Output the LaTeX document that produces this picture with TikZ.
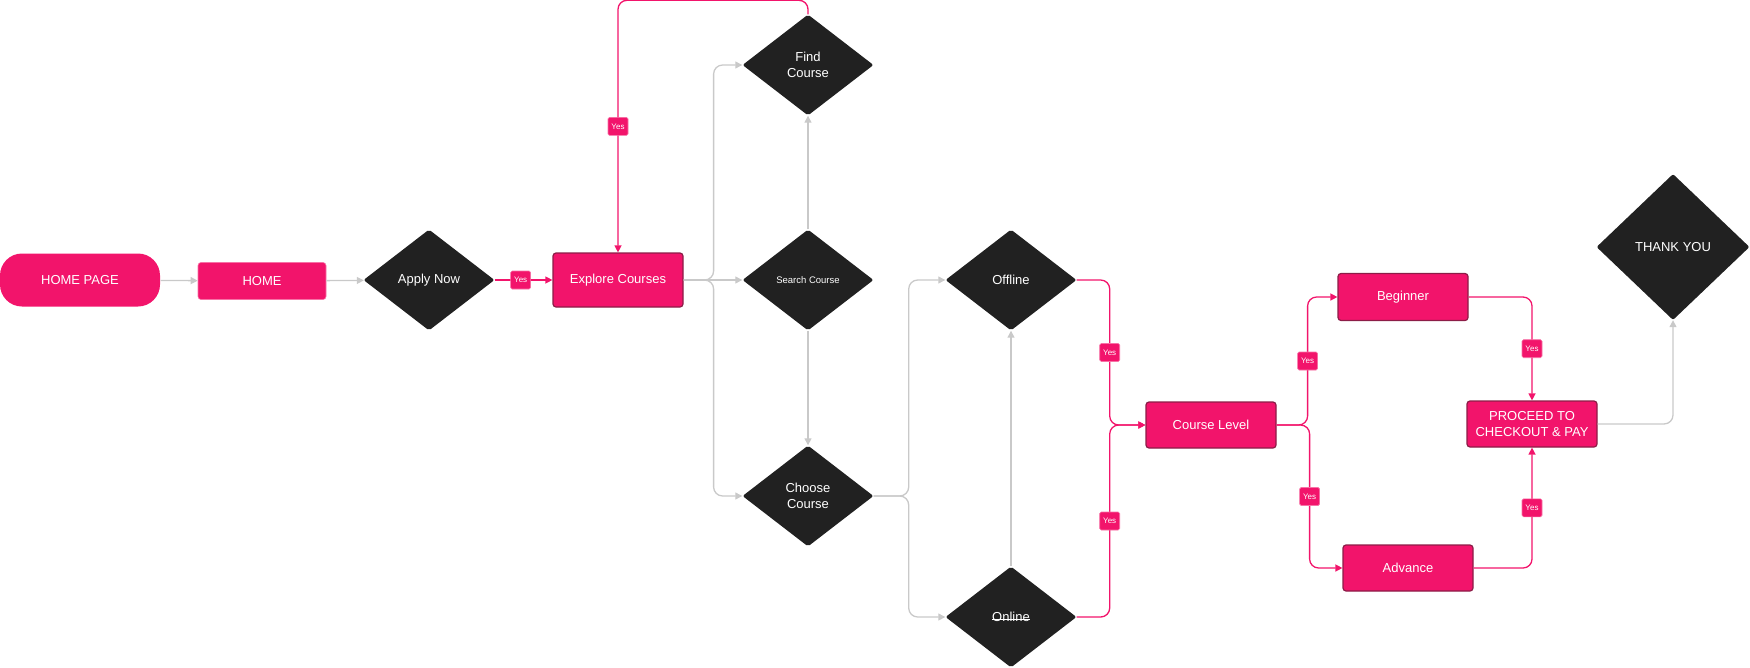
\documentclass[tikz,border=0pt]{standalone}
\usepackage{fontspec}
\setmainfont{Liberation Sans}
\usetikzlibrary{shapes.geometric,arrows.meta}
\definecolor{brandpink}{HTML}{F2146B}
\definecolor{boxrim}{HTML}{8C1D47}
\definecolor{darkfill}{HTML}{212121}
\definecolor{edgegrey}{HTML}{C9C9C9}
\newcommand\strikeword[1]{\setbox0\hbox{#1}\rlap{\rule[0.3ex]{\wd0}{0.7pt}}\box0}
\begin{document}
\begin{tikzpicture}[x=1pt,y=-1pt,
  pinkbox/.style={rectangle, rounded corners=3pt, fill=brandpink, draw=boxrim, line width=1.2pt, text=white, minimum width=130pt, minimum height=46pt, align=center, font=\fontsize{13}{15.5}\selectfont},
  decide/.style={diamond, rounded corners=2pt, fill=darkfill, text=white, minimum width=131pt, minimum height=101pt, inner sep=0pt, align=center, font=\fontsize{13}{15.5}\selectfont},
  yes/.style={rectangle, rounded corners=1.5pt, fill=brandpink, draw=brandpink!60!white, line width=0.6pt, text=white, minimum width=20pt, minimum height=18pt, inner sep=0pt, font=\fontsize{8}{9}\selectfont},
  gline/.style={draw=edgegrey, line width=1.3pt, rounded corners=9pt, -{Triangle[length=7pt,width=7pt]}},
  pline/.style={draw=brandpink, line width=1.3pt, rounded corners=9pt, -{Triangle[length=7pt,width=7pt]}}]
\useasboundingbox (0,0) rectangle (1750,667);
\node[pinkbox, draw=none, rounded corners=22pt, minimum width=160pt, minimum height=53pt] (hp) at (80,280){HOME PAGE};
\node[pinkbox, draw=brandpink!60!white, line width=0.6pt, minimum width=128pt, minimum height=37pt] (home) at (262,281){HOME};
\node[decide] (apply) at (429,280){Apply Now};
\node[pinkbox, minimum height=54pt] (explore) at (618,280){Explore Courses};
\node[decide] (find) at (808,65){Find\\Course};
\node[decide, font=\fontsize{9.5}{11}\selectfont] (search) at (808,280){Search Course};
\node[decide] (choose) at (808,496){Choose\\Course};
\node[decide] (offline) at (1011,280){Offline};
\node[decide] (online) at (1011,617){\strikeword{Online}};
\node[pinkbox] (level) at (1211,425){Course Level};
\node[pinkbox, minimum height=47pt] (beginner) at (1403,297){Beginner};
\node[pinkbox] (advance) at (1408,568){Advance};
\node[pinkbox] (pay) at (1532,424){PROCEED TO\\CHECKOUT \& PAY};
\node[decide, minimum width=153pt, minimum height=146pt] (thanks) at (1673,247){THANK YOU};
\draw[gline] (hp) -- (home);
\draw[gline] (home) -- (apply);
\draw[pline] (apply) -- node[yes, pos=0.45]{Yes} (explore);
\draw[pline] (find.north) -- ++(0,-14) -| node[yes, pos=0.75]{Yes} (explore.north);
\draw[gline] (explore) -- (search);
\draw[gline] (explore.east) -- ++(30,0) |- (find);
\draw[gline] (explore.east) -- ++(30,0) |- (choose);
\draw[gline] (search) -- (find);
\draw[gline] (search) -- (choose);
\draw[gline] (choose.east) -- ++(35,0) |- (offline);
\draw[gline] (choose.east) -- ++(35,0) |- (online);
\draw[gline] (online) -- (offline);
\draw[pline] (offline.east) -- ++(33,0) |- node[yes, pos=0.25]{Yes} (level.west);
\draw[pline] (online.east) -- ++(33,0) |- node[yes, pos=0.25]{Yes} (level.west);
\draw[pline] (level.east) -- ++(31,0) |- node[yes, pos=0.25]{Yes} (beginner.west);
\draw[pline] (level.east) -- ++(33,0) |- node[yes, pos=0.25]{Yes} (advance.west);
\draw[pline] (beginner.east) -| node[yes, pos=0.75]{Yes} (pay.north);
\draw[pline] (advance.east) -| node[yes, pos=0.75]{Yes} (pay.south);
\draw[gline] (pay.east) -| (thanks.south);
\end{tikzpicture}
\end{document}
